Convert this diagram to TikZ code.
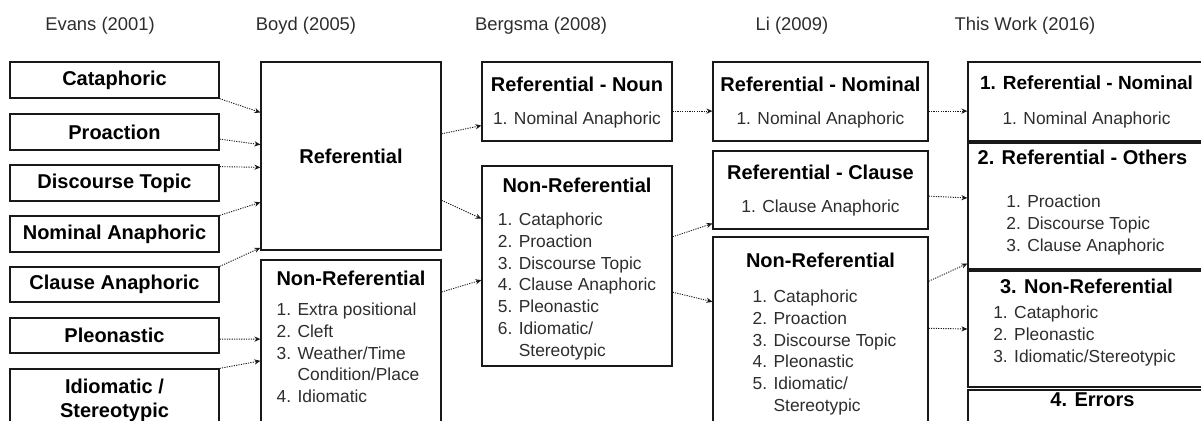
\documentclass[tikz,border=0pt]{standalone}
\usepackage{fontspec}
\setmainfont{Liberation Sans}
\usepackage{tikz}
\usetikzlibrary{arrows.meta, positioning, calc, fit}
\definecolor{mydark}{RGB}{25,25,25}
\definecolor{mytext}{RGB}{45,45,45}
\tikzset{
  box/.style={rectangle, draw=mydark, line width=0.6pt, inner sep=0pt},
  title/.style={font=\fontsize{10}{12}\selectfont\bfseries, text=black,
    inner sep=0pt, align=center},
  items/.style={font=\fontsize{8.7}{10.9}\selectfont, text=mytext, align=left,
    inner sep=0pt, anchor=north},
  sub/.style={font=\fontsize{8.7}{10.9}\selectfont, text=mytext, inner sep=0pt},
  year/.style={font=\fontsize{9.2}{11}\selectfont, text=mytext, inner sep=0pt},
  arrow/.style={-{Stealth[length=3pt, width=2.6pt]}, line width=0.45pt,
    color=mydark, dash pattern=on 0.6pt off 0.6pt}
}

\begin{document}
\begin{tikzpicture}[x=0.5pt, y=-0.5pt]
  \useasboundingbox (0,0) rectangle (1201,421);
  \clip (0,0) rectangle (1201,421);

  % column heads
  \node[year] (h1) at (100,26) {Evans (2001)};
  \node[year] (h2) at (306,26) {Boyd (2005)};
  \node[year] (h3) at (541,26) {Bergsma (2008)};
  \node[year] (h4) at (792,26) {Li (2009)};
  \node[year] (h5) at (1025,26) {This Work (2016)};

  % Evans
  \node[box, fit={(10,62) (219,98)}, label={[title]center:Cataphoric}] (cata) {};
  \node[box, fit={(10,114) (219,150)}, label={[title]center:Proaction}] (proa) {};
  \node[box, fit={(10,165) (219,201)}, label={[title]center:Discourse Topic}] (disc) {};
  \node[box, fit={(10,216) (219,252)}, label={[title]center:Nominal Anaphoric}] (nomi) {};
  \node[box, fit={(10,267) (219,302)}, label={[title]center:Clause Anaphoric}] (clau) {};
  \node[box, fit={(10,318) (219,353)}, label={[title]center:Pleonastic}] (pleo) {};
  \node[box, fit={(10,369) (219,431)}, label={[title]center:Idiomatic /\\Stereotypic}] (idio) {};

  % Boyd
  \node[box, fit={(261,62) (441,250)}, label={[title]center:Referential}] (bref) {};
  \node[box, fit={(261,260) (441,440)}] (bnon) {};
  \node[title] (bnon-t) at ($(bnon.north)+(0,19)$) {Non-Referential};
  \node[items] (bnon-l) at ($(bnon.north)+(-3,43)$)
    {1. Extra positional\\2. Cleft\\3. Weather/Time\\\phantom{3. }Condition/Place\\4. Idiomatic};

  % Bergsma
  \node[box, fit={(482,62) (672,141)}] (gnoun) {};
  \node[title] (gnoun-t) at ($(gnoun.north)+(0,23)$) {Referential - Noun};
  \node[sub] (gnoun-s) at ($(gnoun.north)+(0,59)$) {1. Nominal Anaphoric};
  \node[box, fit={(482,166) (672,366)}] (gnon) {};
  \node[title] (gnon-t) at ($(gnon.north)+(0,20)$) {Non-Referential};
  \node[items] (gnon-l) at ($(gnon.north)+(0,47)$)
    {1. Cataphoric\\2. Proaction\\3. Discourse Topic\\4. Clause Anaphoric\\5. Pleonastic\\6. Idiomatic/\\\phantom{6. }Stereotypic};

  % Li
  \node[box, fit={(713,62) (928,141)}] (lnom) {};
  \node[title] (lnom-t) at ($(lnom.north)+(0,23)$) {Referential - Nominal};
  \node[sub] (lnom-s) at ($(lnom.north)+(0,59)$) {1. Nominal Anaphoric};
  \node[box, fit={(713,151) (928,229)}] (lcla) {};
  \node[title] (lcla-t) at ($(lcla.north)+(0,22)$) {Referential - Clause};
  \node[sub] (lcla-s) at ($(lcla.north)+(0,58)$) {1. Clause Anaphoric};
  \node[box, fit={(713,237) (928,440)}] (lnon) {};
  \node[title] (lnon-t) at ($(lnon.north)+(0,24)$) {Non-Referential};
  \node[items] (lnon-l) at ($(lnon.north)+(4,53)$)
    {1. Cataphoric\\2. Proaction\\3. Discourse Topic\\4. Pleonastic\\5. Idiomatic/\\\phantom{5. }Stereotypic};

  % this work
  \node[box, fit={(968,62) (1225,141)}] (tone) {};
  \node[title, font=\fontsize{9.5}{11}\selectfont\bfseries] (tone-t) at ($(tone.north)+(-10,21)$) {1. Referential - Nominal};
  \node[sub] (tone-s) at ($(tone.north)+(-10,59)$) {1. Nominal Anaphoric};
  \node[box, fit={(968,143) (1225,269)}] (ttwo) {};
  \node[title] (ttwo-t) at ($(ttwo.north)+(-14,15)$) {2. Referential - Others};
  \node[items] (ttwo-l) at ($(ttwo.north)+(-11,52)$)
    {1. Proaction\\2. Discourse Topic\\3. Clause Anaphoric};
  \node[box, fit={(968,271) (1225,387)}] (tthr) {};
  \node[title] (tthr-t) at ($(tthr.north)+(-10,16)$) {3. Non-Referential};
  \node[items] (tthr-l) at ($(tthr.north)+(-12,35)$)
    {1. Cataphoric\\2. Pleonastic\\3. Idiomatic/Stereotypic};
  \node[box, fit={(968,390) (1225,450)}] (tfou) {};
  \node[title] (tfou-t) at ($(tfou.north)+(-4,10)$) {4. Errors};

  % Evans -> Boyd
  \draw[arrow] (cata.south east) -- ($(bref.north west)!.27!(bref.south west)$);
  \draw[arrow] ($(proa.north east)!.69!(proa.south east)$) -- ($(bref.north west)!.44!(bref.south west)$);
  \draw[arrow] ($(disc.north east)!.06!(disc.south east)$) -- ($(bref.north west)!.56!(bref.south west)$);
  \draw[arrow] (nomi.north east) -- ($(bref.north west)!.745!(bref.south west)$);
  \draw[arrow] (clau.north east) -- ($(bref.north west)!.985!(bref.south west)$);
  \draw[arrow] ($(pleo.north east)!.6!(pleo.south east)$) -- ($(bnon.north west)!.44!(bnon.south west)$);
  \draw[arrow] (idio.north east) -- ($(bnon.north west)!.56!(bnon.south west)$);

  % Boyd -> Bergsma
  \draw[arrow] ($(bref.north east)!.383!(bref.south east)$) -- ($(gnoun.north west)!.8!(gnoun.south west)$);
  \draw[arrow] ($(bref.north east)!.734!(bref.south east)$) -- ($(gnon.north west)!.265!(gnon.south west)$);
  \draw[arrow] ($(bnon.north east)!.18!(bnon.south east)$) -- ($(gnon.north west)!.57!(gnon.south west)$);

  % Bergsma -> Li
  \draw[arrow] ($(gnoun.north east)!.62!(gnoun.south east)$) -- ($(lnom.north west)!.62!(lnom.south west)$);
  \draw[arrow] ($(gnon.north east)!.355!(gnon.south east)$) -- ($(lcla.north west)!.923!(lcla.south west)$);
  \draw[arrow] ($(gnon.north east)!.63!(gnon.south east)$) -- ($(lnon.north west)!.32!(lnon.south west)$);

  % Li -> this work
  \draw[arrow] ($(lnom.north east)!.62!(lnom.south east)$) -- ($(tone.north west)!.62!(tone.south west)$);
  \draw[arrow] ($(lcla.north east)!.577!(lcla.south east)$) -- ($(ttwo.north west)!.437!(ttwo.south west)$);
  \draw[arrow] ($(lnon.north east)!.22!(lnon.south east)$) -- ($(ttwo.north west)!.952!(ttwo.south west)$);
  \draw[arrow] ($(lnon.north east)!.45!(lnon.south east)$) -- ($(tthr.north west)!.5!(tthr.south west)$);
\end{tikzpicture}
\end{document}
